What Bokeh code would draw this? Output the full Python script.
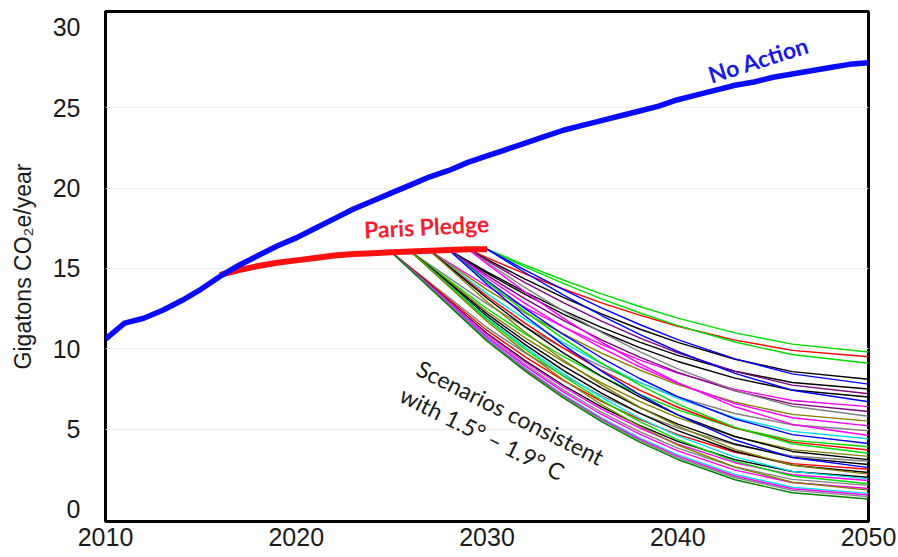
from bokeh.plotting import figure
from bokeh.models import Range1d, FixedTicker, ColumnDataSource
from bokeh.core.properties import value
from bokeh.embed import file_html
from bokeh.resources import INLINE

# ---------------- data ----------------
years = list(range(2010, 2051))
no_action = [10.6, 11.6, 11.9, 12.4, 13.0, 13.7, 14.5, 15.2, 15.8, 16.4,
             16.9, 17.5, 18.1, 18.7, 19.2, 19.7, 20.2, 20.7, 21.1, 21.6,
             22.0, 22.4, 22.8, 23.2, 23.6, 23.9, 24.2, 24.5, 24.8, 25.1,
             25.5, 25.8, 26.1, 26.4, 26.6, 26.9, 27.1, 27.3, 27.5, 27.7, 27.8]

pledge_years = list(range(2016, 2031))
pledge = [14.6, 14.9, 15.15, 15.35, 15.5, 15.65, 15.8, 15.9, 15.95, 16.0,
          16.05, 16.1, 16.15, 16.2, 16.2]

scen_years = [2030, 2032, 2034, 2036, 2038, 2040, 2043, 2046, 2050]
scen_start = [2030, 2029, 2030, 2029, 2030, 2028, 2029, 2028, 2030, 2027,
              2028, 2029, 2027, 2028, 2026, 2029, 2027, 2028, 2026, 2027,
              2028, 2026, 2027, 2025, 2026, 2028, 2025, 2026, 2027, 2025,
              2026, 2025, 2026, 2025, 2025, 2026, 2025, 2025, 2025, 2025]
v2030 = [16.2, 15.67, 16.2, 15.56, 16.2, 14.79, 15.48, 14.71, 16.2, 13.89,
         14.57, 15.37, 13.68, 14.42, 12.79, 15.28, 13.43, 14.25, 12.49, 13.27,
         14.16, 12.32, 13.14, 11.32, 12.17, 14.01, 11.14, 12.02, 12.93, 10.96,
         11.91, 10.89, 11.82, 10.78, 10.71, 11.70, 10.60, 10.56, 10.53, 10.47]
v2032 = [15.21, 14.66, 15.10, 14.33, 14.90, 13.53, 14.12, 13.38, 14.73, 12.56,
         13.10, 13.80, 12.24, 12.83, 11.36, 13.53, 11.84, 12.50, 10.93, 11.58,
         12.31, 10.68, 11.36, 9.74, 10.47, 12.04, 9.50, 10.26, 11.03, 9.26,
         10.09, 9.16, 9.97, 9.02, 8.92, 9.80, 8.78, 8.73, 8.68, 8.61]
v2034 = [14.28, 13.72, 14.07, 13.20, 13.68, 12.38, 12.87, 12.16, 13.35, 11.36,
         11.77, 12.35, 10.92, 11.37, 10.06, 11.91, 10.38, 10.89, 9.52, 10.04,
         10.63, 9.20, 9.74, 8.33, 8.93, 10.24, 8.03, 8.66, 9.30, 7.73,
         8.45, 7.62, 8.29, 7.44, 7.32, 8.07, 7.14, 7.09, 7.03, 6.94]
v2036 = [13.42, 12.86, 13.11, 12.17, 12.55, 11.33, 11.72, 11.06, 12.07, 10.27,
         10.55, 11.02, 9.73, 10.05, 8.90, 10.42, 9.07, 9.44, 8.26, 8.65,
         9.11, 7.88, 8.29, 7.08, 7.56, 8.61, 6.73, 7.24, 7.75, 6.39,
         6.98, 6.25, 6.79, 6.05, 5.91, 6.53, 5.70, 5.64, 5.57, 5.46]
v2038 = [12.63, 12.09, 12.24, 11.23, 11.51, 10.41, 10.68, 10.07, 10.90, 9.31,
         9.48, 9.82, 8.68, 8.88, 7.89, 9.08, 7.91, 8.15, 7.16, 7.42,
         7.75, 6.72, 7.00, 6.00, 6.35, 7.15, 5.61, 5.99, 6.37, 5.23,
         5.69, 5.07, 5.47, 4.84, 4.69, 5.18, 4.46, 4.38, 4.30, 4.19]
v2040 = [11.91, 11.40, 11.44, 10.40, 10.57, 9.59, 9.75, 9.21, 9.83, 8.48,
         8.53, 8.75, 7.77, 7.85, 7.01, 7.89, 6.91, 7.02, 6.20, 6.36,
         6.56, 5.72, 5.89, 5.08, 5.31, 5.88, 4.66, 4.91, 5.18, 4.24,
         4.58, 4.07, 4.34, 3.82, 3.65, 4.01, 3.40, 3.32, 3.23, 3.11]
v2043 = [10.99, 10.54, 10.42, 9.35, 9.37, 8.60, 8.59, 8.17, 8.47, 7.47,
         7.38, 7.41, 6.67, 6.59, 5.97, 6.39, 5.70, 5.63, 5.07, 5.07,
         5.11, 4.53, 4.54, 4.02, 4.07, 4.32, 3.56, 3.62, 3.74, 3.10,
         3.26, 2.91, 2.99, 2.64, 2.45, 2.63, 2.18, 2.08, 1.99, 1.85]
v2046 = [10.29, 9.90, 9.64, 8.58, 8.44, 7.90, 7.74, 7.43, 7.42, 6.78,
         6.57, 6.42, 5.92, 5.71, 5.27, 5.29, 4.86, 4.66, 4.30, 4.19,
         4.09, 3.72, 3.61, 3.33, 3.24, 3.23, 2.85, 2.76, 2.75, 2.36,
         2.37, 2.16, 2.08, 1.87, 1.68, 1.69, 1.38, 1.29, 1.19, 1.04]
v2050 = [9.8, 9.5, 9.1, 8.1, 7.8, 7.5, 7.2, 7.0, 6.7, 6.4,
         6.1, 5.8, 5.5, 5.2, 4.9, 4.6, 4.4, 4.1, 3.9, 3.7,
         3.5, 3.3, 3.1, 3.0, 2.8, 2.6, 2.5, 2.3, 2.2, 2.0,
         1.9, 1.8, 1.6, 1.5, 1.3, 1.2, 1.0, 0.9, 0.8, 0.65]
scen_colors = ["G", "R", "G", "K", "B", "K", "P", "K", "B", "M",
               "P", "Y", "O", "M", "Y", "M", "C", "B", "G", "R",
               "G", "O", "K", "Y", "K", "B", "R", "K", "O", "K",
               "C", "M", "G", "Y", "M", "O", "C", "M", "Y", "D"]

x_ticks = [2010, 2020, 2030, 2040, 2050]
y_ticks = [0, 5, 10, 15, 20, 25, 30]

# ---------------- styles ----------------
palette = {"G": "#00dd00", "R": "#ff0000", "K": "#000000", "B": "#0000ff",
           "M": "#ff00ff", "C": "#00e0e8", "O": "#808000", "Y": "#808080",
           "D": "#008000", "P": "#800080"}

cols = [v2030, v2032, v2034, v2036, v2038, v2040, v2043, v2046, v2050]
xs, ys, cs = [], [], []
for i in range(len(scen_start)):
    vals = [c[i] for c in cols]
    s = scen_start[i]
    if s < 2030:
        x = [s] + scen_years
        y = [pledge[pledge_years.index(s)]] + vals
    else:
        x = list(scen_years)
        y = vals
    xs.append(x)
    ys.append(y)
    cs.append(palette[scen_colors[i]])

p = figure(width=898, height=557, output_backend="svg", toolbar_location=None,
           x_range=Range1d(2010, 2050), y_range=Range1d(-0.75, 30.99),
           min_border_left=105, min_border_right=30, min_border_top=11,
           min_border_bottom=36)

p.background_fill_color = "white"
p.border_fill_color = "white"
p.outline_line_color = "black"
p.outline_line_width = 3
p.outline_line_alpha = 1

for ax in (p.xaxis, p.yaxis):
    ax.axis_line_color = None
    ax.major_tick_line_color = None
    ax.minor_tick_line_color = None
    ax.major_tick_out = 0
    ax.major_tick_in = 0
    ax.major_label_text_font = "Liberation Sans"
    ax.major_label_text_font_size = "25px"
    ax.major_label_text_color = "#1a1a1a"

p.xaxis.ticker = FixedTicker(ticks=x_ticks)
p.yaxis.ticker = FixedTicker(ticks=y_ticks)
p.xaxis.major_label_standoff = 6
p.yaxis.major_label_standoff = 25

p.yaxis.axis_label = "Gigatons CO\u2082e/year"
p.yaxis.axis_label_text_font = "Liberation Sans"
p.yaxis.axis_label_text_font_size = "23px"
p.yaxis.axis_label_text_font_style = "normal"
p.yaxis.axis_label_text_color = "#1a1a1a"
p.yaxis.axis_label_standoff = 14

p.xgrid.grid_line_color = None
p.ygrid.ticker = FixedTicker(ticks=[5, 10, 15, 20, 25])
p.ygrid.grid_line_color = "#efefef"
p.ygrid.grid_line_width = 1

src = ColumnDataSource(dict(xs=xs, ys=ys, color=cs))
p.multi_line(xs="xs", ys="ys", line_color="color", line_width=1.4, source=src)

p.line(pledge_years, pledge, line_color="#ff1010", line_width=6)
p.line(years, no_action, line_color="#0a0aff", line_width=5.5)

p.text(x=[2044.23], y=[28.0], text=["No Action"], angle=0.305,
       text_font=value("Lato"), text_font_style="bold", text_font_size="23px",
       text_color="#1a1ae6", text_align="center", text_baseline="middle")
p.text(x=[2026.83], y=[17.62], text=["Paris Pledge"], angle=0.05,
       text_font=value("Lato"), text_font_style="bold", text_font_size="23px",
       text_color="#f5202f", text_align="center", text_baseline="middle")
p.text(x=[2031.23, 2029.76], y=[6.05, 4.75],
       text=["Scenarios consistent", "with 1.5\u00b0 \u2013 1.9\u00b0 C"],
       angle=-0.4625, text_font=value("Lato"), text_font_size="23px",
       text_color="#1a1a1a", text_align="center", text_baseline="middle")

open("out.html", "w").write(file_html(p, INLINE))
